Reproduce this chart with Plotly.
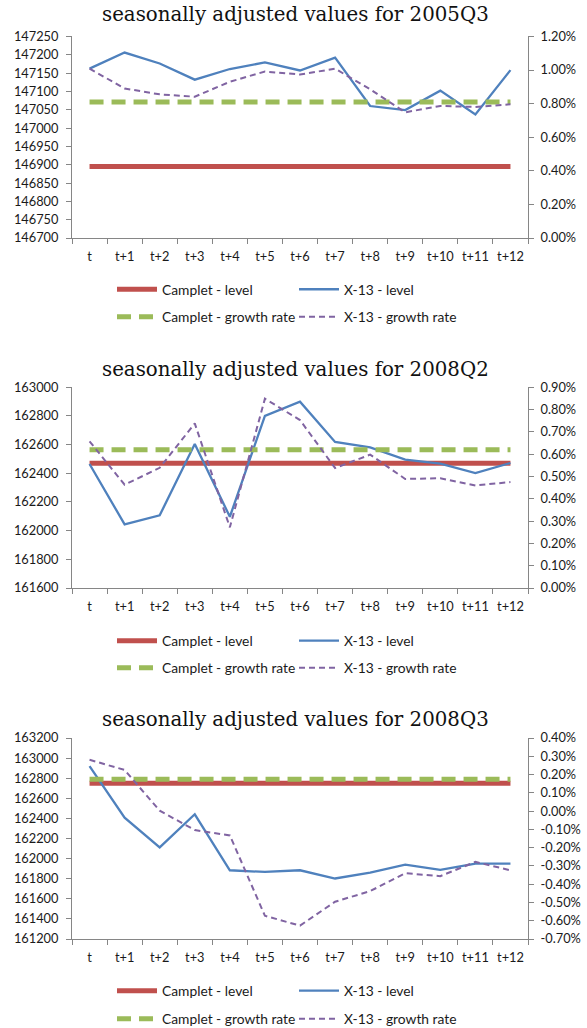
import plotly.graph_objects as go

categories = ["t", "t+1", "t+2", "t+3", "t+4", "t+5", "t+6", "t+7", "t+8", "t+9", "t+10", "t+11", "t+12"]

titles = ["seasonally adjusted values for 2005Q3",
          "seasonally adjusted values for 2008Q2",
          "seasonally adjusted values for 2008Q3"]

# Panel 1: 2005Q3
camplet_level_1 = [146895] * 13
x13_level_1 = [147162, 147206, 147176, 147132, 147161, 147179, 147157, 147192, 147060, 147049, 147102, 147037, 147158]
camplet_growth_1 = [0.81] * 13
x13_growth_1 = [1.008, 0.89, 0.855, 0.841, 0.93, 0.991, 0.973, 1.008, 0.885, 0.748, 0.786, 0.780, 0.796]

# Panel 2: 2008Q2
camplet_level_2 = [162470] * 13
x13_level_2 = [162465, 162044, 162107, 162604, 162097, 162800, 162900, 162619, 162581, 162495, 162467, 162402, 162472]
camplet_growth_2 = [0.62] * 13
x13_growth_2 = [0.658, 0.463, 0.539, 0.738, 0.272, 0.849, 0.753, 0.538, 0.598, 0.489, 0.492, 0.46, 0.475]

# Panel 3: 2008Q3
camplet_level_3 = [162749] * 13
x13_level_3 = [162921, 162407, 162112, 162441, 161884, 161867, 161884, 161802, 161861, 161940, 161888, 161950, 161950]
camplet_growth_3 = [0.174] * 13
x13_growth_3 = [0.281, 0.225, 0.002, -0.104, -0.133, -0.573, -0.627, -0.496, -0.438, -0.34, -0.356, -0.278, -0.324]

# Axis ticks
left_ticks_1 = [146700, 146750, 146800, 146850, 146900, 146950, 147000, 147050, 147100, 147150, 147200, 147250]
right_ticks_1 = [0.0, 0.2, 0.4, 0.6, 0.8, 1.0, 1.2]
left_ticks_2 = [161600, 161800, 162000, 162200, 162400, 162600, 162800, 163000]
right_ticks_2 = [0.0, 0.1, 0.2, 0.3, 0.4, 0.5, 0.6, 0.7, 0.8, 0.9]
left_ticks_3 = [161200, 161400, 161600, 161800, 162000, 162200, 162400, 162600, 162800, 163000, 163200]
right_ticks_3 = [-0.7, -0.6, -0.5, -0.4, -0.3, -0.2, -0.1, 0.0, 0.1, 0.2, 0.3, 0.4]

series_names = ["Camplet - level", "X-13 - level", "Camplet - growth rate", "X-13 - growth rate"]

panels = [
    (camplet_level_1, x13_level_1, camplet_growth_1, x13_growth_1, left_ticks_1, right_ticks_1),
    (camplet_level_2, x13_level_2, camplet_growth_2, x13_growth_2, left_ticks_2, right_ticks_2),
    (camplet_level_3, x13_level_3, camplet_growth_3, x13_growth_3, left_ticks_3, right_ticks_3),
]

W, H = 587, 1028
# pixel geometry (top, bottom) of each plot area
plot_y = [(36.4, 238.0), (387.3, 588.0), (738.0, 939.0)]
title_y = [15, 369, 719]
legend_rows = [(289.3, 316.7), (640.7, 667.7), (990.7, 1018.7)]
x_left, x_right = 72.0, 528.0

RED = "#C0504D"
BLUE = "#4F81BD"
GREEN = "#9BBB59"
PURPLE = "#8064A2"
AXIS = "#868686"
TXT = "#1a1a1a"
FONT = "Lato"
TICK_SIZE = 12.8

fig = go.Figure()
layout = dict(
    width=W, height=H,
    margin=dict(l=0, r=0, t=0, b=0, autoexpand=False),
    paper_bgcolor="white", plot_bgcolor="white",
    showlegend=True,
    font=dict(family=FONT, size=TICK_SIZE, color=TXT),
    annotations=[],
)

def fy(px):
    return 1 - px / H

for i, (cl, xl, cg, xg, lt, rt) in enumerate(panels):
    n = i + 1
    xa = "x" if n == 1 else f"x{n}"
    ya_l = f"y{2*n-1}" if 2*n-1 > 1 else "y"
    ya_r = f"y{2*n}"
    leg_a = "legend" if n == 1 else f"legend{2*n-1}"
    leg_b = f"legend{2*n}"

    fig.add_trace(go.Scatter(x=categories, y=cl, name=series_names[0], mode="lines",
                             line=dict(color=RED, width=5), xaxis=xa, yaxis=ya_l, legend=leg_a))
    fig.add_trace(go.Scatter(x=categories, y=xl, name=series_names[1], mode="lines",
                             line=dict(color=BLUE, width=2.3), xaxis=xa, yaxis=ya_l, legend=leg_a))
    fig.add_trace(go.Scatter(x=categories, y=cg, name=series_names[2], mode="lines",
                             line=dict(color=GREEN, width=5, dash="14px,8px"), xaxis=xa, yaxis=ya_r, legend=leg_b))
    fig.add_trace(go.Scatter(x=categories, y=xg, name=series_names[3], mode="lines",
                             line=dict(color=PURPLE, width=2, dash="6px,4px"), xaxis=xa, yaxis=ya_r, legend=leg_b))

    top, bot = plot_y[i]
    dom = [fy(bot), fy(top)]
    xkey = "xaxis" if n == 1 else f"xaxis{n}"
    ylkey = "yaxis" if n == 1 else f"yaxis{2*n-1}"
    yrkey = f"yaxis{2*n}"

    layout[xkey] = dict(
        domain=[x_left / W, x_right / W], anchor=ya_l, type="category",
        categoryorder="array", categoryarray=categories, range=[-0.5, 12.5],
        showline=True, linecolor=AXIS, linewidth=1, ticks="outside", tickson="boundaries",
        tickcolor=AXIS, ticklen=5, showgrid=False, zeroline=False, tickangle=0,
        tickfont=dict(family=FONT, size=TICK_SIZE, color=TXT), automargin=False,
        ticklabelstandoff=7,
    )
    layout[ylkey] = dict(
        domain=dom, anchor=xa, range=[lt[0], lt[-1]], tickvals=lt,
        ticktext=[str(v) for v in lt],
        showline=True, linecolor=AXIS, linewidth=1, ticks="outside", tickcolor=AXIS, ticklen=5,
        showgrid=False, zeroline=False, tickfont=dict(family=FONT, size=TICK_SIZE, color=TXT),
        automargin=False, ticklabelstandoff=5,
    )
    layout[yrkey] = dict(
        domain=dom, anchor=xa, overlaying=ya_l, side="right", range=[rt[0], rt[-1]], tickvals=rt,
        ticktext=[("%.2f%%" % v) for v in rt],
        showline=True, linecolor=AXIS, linewidth=1, ticks="outside", tickcolor=AXIS, ticklen=5,
        showgrid=False, zeroline=False, tickfont=dict(family=FONT, size=TICK_SIZE, color=TXT),
        automargin=False, ticklabelstandoff=4,
    )

    layout["annotations"].append(dict(
        text=titles[i], x=296 / W, y=fy(title_y[i]), xref="paper", yref="paper",
        xanchor="center", yanchor="middle", showarrow=False,
        font=dict(family="DejaVu Serif", size=19.8, color="#111111"),
    ))

    for key, ypx in ((leg_a, legend_rows[i][0]), (leg_b, legend_rows[i][1])):
        layout[key] = dict(
            orientation="h", x=112 / W, y=fy(ypx), xanchor="left", yanchor="middle",
            xref="paper", yref="paper", bgcolor="rgba(0,0,0,0)",
            font=dict(family=FONT, size=13.8, color=TXT),
            entrywidth=127, entrywidthmode="pixels", itemwidth=40,
            tracegroupgap=0, itemclick=False, itemdoubleclick=False,
        )

fig.update_layout(**layout)
fig.write_html("out.html")
